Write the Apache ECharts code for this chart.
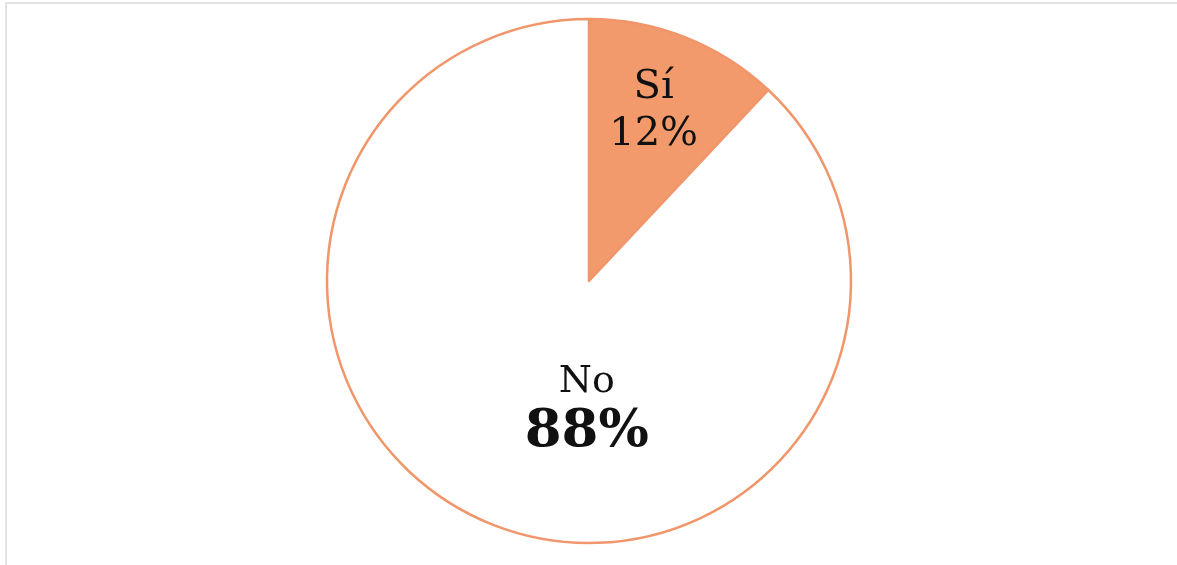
<!DOCTYPE html>
<html>
<head>
<meta charset="utf-8">
<script src="https://cdn.jsdelivr.net/npm/echarts@6/dist/echarts.min.js"></script>
<style>
  html, body { margin: 0; padding: 0; background: #fff; }
  #chart { width: 1177px; height: 565px; }
</style>
</head>
<body>
<div id="chart"></div>
<script>
// Survey answers (percent of respondents)
const categories = ['Sí', 'No'];
const values = [12, 88];

// Pie geometry and label anchors (angle clockwise from 12 o'clock, distance as share of radius)
const pieCenter = [589, 281];
const pieRadius = 262;
const labelAngle = [20.8, 181];
const labelDist = [0.695, 0.488];

const orange = '#F0966A';
const fills = ['#F29A6B', '#ffffff'];
const serif = '"DejaVu Serif", "Liberation Serif", serif';

const richStyles = [
  {
    n: { fontFamily: serif, fontSize: 40, color: '#111', lineHeight: 47, align: 'center' },
    v: { fontFamily: serif, fontSize: 40, color: '#111', lineHeight: 47, align: 'center' }
  },
  {
    n: { fontFamily: serif, fontSize: 38, color: '#111', lineHeight: 46, align: 'center' },
    v: { fontFamily: serif, fontSize: 53, fontWeight: 'bold', color: '#111', lineHeight: 54, align: 'center' }
  }
];

const data = categories.map((name, i) => ({
  name: name,
  value: values[i],
  itemStyle: { color: fills[i] },
  label: { rich: richStyles[i] }
}));

const chart = echarts.init(document.getElementById('chart'), null, { renderer: 'canvas' });

chart.setOption({
  animation: false,
  backgroundColor: '#ffffff',
  graphic: [{
    type: 'rect',
    shape: { x: 6, y: 3, width: 1400, height: 800 },
    style: { fill: 'none', stroke: '#e3e3e3', lineWidth: 2 },
    silent: true,
    z: -1
  }],
  series: [{
    type: 'pie',
    center: pieCenter,
    radius: pieRadius,
    startAngle: 90,
    clockwise: true,
    data: data,
    itemStyle: { borderColor: orange, borderWidth: 2.5 },
    label: {
      show: true,
      position: 'inside',
      formatter: '{n|{b}}\n{v|{d}%}'
    },
    labelLine: { show: false },
    emphasis: { disabled: true },
    labelLayout: function (params) {
      const i = params.dataIndex;
      const a = labelAngle[i] * Math.PI / 180;
      const r = labelDist[i] * pieRadius;
      return {
        x: pieCenter[0] + r * Math.sin(a),
        y: pieCenter[1] - r * Math.cos(a),
        align: 'center',
        verticalAlign: 'middle'
      };
    }
  }]
});
</script>
</body>
</html>
